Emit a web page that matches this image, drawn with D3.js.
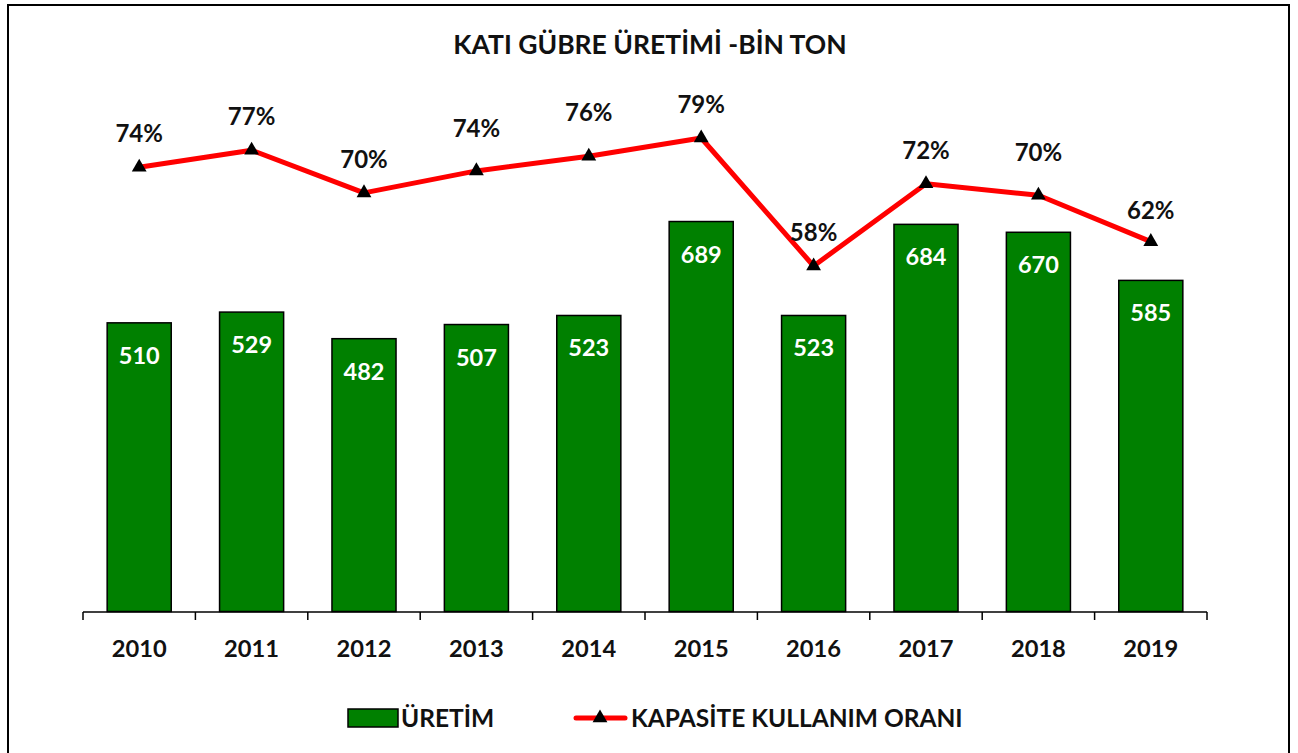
<!DOCTYPE html>
<html><head><meta charset="utf-8">
<script src="https://cdn.jsdelivr.net/npm/d3@7"></script>
<style>html,body{margin:0;padding:0;background:#fff;}svg{display:block;}</style>
</head><body>
<svg id="chart" width="1298" height="753"></svg>
<script>
const years = ["2010","2011","2012","2013","2014","2015","2016","2017","2018","2019"];
const production = [510, 529, 482, 507, 523, 689, 523, 684, 670, 585];
const capacity = [0.742, 0.77, 0.70, 0.736, 0.76, 0.79, 0.58, 0.715, 0.696, 0.62];
const titleText = "KATI GÜBRE ÜRETİMİ -BİN TON";
const legendLabels = ["ÜRETİM", "KAPASİTE KULLANIM ORANI"];
// extra upward shift (px) of some percentage labels, as placed in the original
const labelLift = [0, 0, 0, 9, 10, 0, 0, 0, 9, -2];

const FONT = "Lato, 'Open Sans', sans-serif";
const svg = d3.select("#chart");

// outer frame
svg.append("rect").attr("x", 8).attr("y", 5).attr("width", 1281).attr("height", 760)
  .attr("fill", "none").attr("stroke", "#000").attr("stroke-width", 2);

const x = d3.scaleBand().domain(years).range([83, 1207]).paddingInner(0.43).paddingOuter(0.215);
const yL = d3.scaleLinear().domain([0, 850]).range([611.5, 130.4]);
const yR = d3.scaleLinear().domain([0, 0.8]).range([619.5, 131.9]);

// title
svg.append("text").attr("x", 650).attr("y", 54).attr("text-anchor", "middle")
  .attr("font-family", FONT).attr("font-weight", 700).attr("font-size", 26.5)
  .attr("fill", "#111").text(titleText);

// bars
svg.append("g").selectAll("rect").data(production).join("rect")
  .attr("x", (d, i) => x(years[i])).attr("width", x.bandwidth())
  .attr("y", d => yL(d)).attr("height", d => yL(0) - yL(d))
  .attr("fill", "#008000").attr("stroke", "#000").attr("stroke-width", 1.5);

// bar labels
svg.append("g").selectAll("text").data(production).join("text")
  .attr("x", (d, i) => x(years[i]) + x.bandwidth() / 2).attr("y", d => yL(d) + 41)
  .attr("text-anchor", "middle").attr("font-family", FONT).attr("font-weight", 700)
  .attr("font-size", 23.5).attr("fill", "#fff").text(d => d);

// x axis
const axis = d3.axisBottom(x).tickSize(0).tickFormat("");
const gx = svg.append("g").attr("transform", "translate(0,612)").call(axis);
gx.select(".domain").attr("stroke", "#000").attr("stroke-width", 1.5).attr("d", "M83,0H1207");
const bounds = d3.range(years.length + 1).map(i => x.range()[0] + i * x.step());
gx.append("g").selectAll("line").data(bounds).join("line")
  .attr("x1", d => d).attr("x2", d => d).attr("y1", 0).attr("y2", 8)
  .attr("stroke", "#000").attr("stroke-width", 1.5);
svg.append("g").selectAll("text").data(years).join("text")
  .attr("x", d => x(d) + x.bandwidth() / 2).attr("y", 657)
  .attr("text-anchor", "middle").attr("font-family", FONT).attr("font-weight", 700)
  .attr("font-size", 23.7).attr("fill", "#111").text(d => d);

// line
const cx = i => x(years[i]) + x.bandwidth() / 2;
const line = d3.line().x((d, i) => cx(i)).y(d => yR(d));
svg.append("path").datum(capacity).attr("d", line).attr("fill", "none")
  .attr("stroke", "#ff0000").attr("stroke-width", 5).attr("stroke-linejoin", "round");

const tri = d3.symbol().type(d3.symbolTriangle).size(95);
svg.append("g").selectAll("path").data(capacity).join("path")
  .attr("d", tri).attr("transform", (d, i) => `translate(${cx(i)},${yR(d)})`).attr("fill", "#000");

svg.append("g").selectAll("text").data(capacity).join("text")
  .attr("x", (d, i) => cx(i)).attr("y", (d, i) => yR(d) - 25 - labelLift[i])
  .attr("text-anchor", "middle").attr("font-family", FONT).attr("font-weight", 700)
  .attr("font-size", 24).attr("fill", "#111").text(d => d3.format(".0%")(d));

// legend
const lg = svg.append("g");
lg.append("rect").attr("x", 348).attr("y", 709).attr("width", 50).attr("height", 18)
  .attr("fill", "#008000").attr("stroke", "#000").attr("stroke-width", 1.5);
lg.append("text").attr("x", 401).attr("y", 727).attr("font-family", FONT).attr("font-weight", 700)
  .attr("font-size", 24.5).attr("fill", "#111").text(legendLabels[0]);
lg.append("line").attr("x1", 576).attr("x2", 625).attr("y1", 718).attr("y2", 718)
  .attr("stroke", "#ff0000").attr("stroke-width", 5).attr("stroke-linecap", "round");
lg.append("path").attr("d", tri).attr("transform", "translate(600,718)").attr("fill", "#000");
lg.append("text").attr("x", 631).attr("y", 727).attr("font-family", FONT).attr("font-weight", 700)
  .attr("font-size", 24.5).attr("fill", "#111").text(legendLabels[1]);
</script>
</body></html>
